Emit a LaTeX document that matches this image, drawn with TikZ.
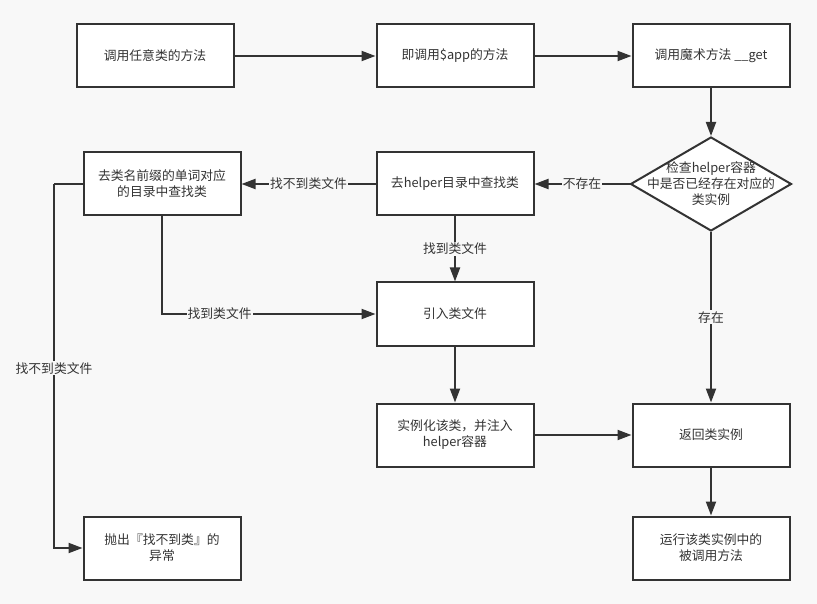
\documentclass[tikz,border=0pt]{standalone}
\usepackage{fontspec}
\setmainfont{Noto Sans CJK SC}
\usetikzlibrary{arrows.meta,shapes.geometric}
\definecolor{bg}{HTML}{F8F8F8}
\definecolor{ln}{HTML}{333333}
\definecolor{tx}{HTML}{333333}
\begin{document}
\begin{tikzpicture}[x=1pt,y=-1pt,
  box/.style={draw=ln, line width=2pt, fill=white, minimum width=157pt, minimum height=63pt, inner sep=2pt, align=center, text=tx, font=\fontsize{12.8}{16}\selectfont},
  dia/.style={diamond, draw=ln, line width=2pt, fill=white, minimum width=161pt, minimum height=94pt, inner sep=0pt},
  dtext/.style={align=center, text=tx, font=\fontsize{12.8}{16}\selectfont},
  arr/.style={draw=ln, line width=2pt, -{Triangle[length=14pt,width=10pt]}},
  plain/.style={draw=ln, line width=2pt},
  lbl/.style={fill=bg, inner sep=1pt, text=tx, font=\fontsize{12.8}{16}\selectfont},
]
\fill[bg] (0,0) rectangle (817,604);
\useasboundingbox (0,0) rectangle (817,604);

\node[box] (b1) at (155,56) {调用任意类的方法};
\node[box] (b2) at (455,56) {即调用\$app的方法};
\node[box] (b3) at (711,56) {调用魔术方法 \_\_get};
\node[dia] (dia) at (711,184) {};
\node[dtext] (diat) at (711,184) {检查helper容器\\中是否已经存在对应的\\类实例};
\node[box] (hp) at (455,184) {去helper目录中查找类};
\node[box] (lb) at (162,184) {去类名前缀的单词对应\\的目录中查找类};
\node[box] (inc) at (455,314) {引入类文件};
\node[box] (ins) at (455,435) {实例化该类，并注入\\helper容器};
\node[box] (ret) at (711,435) {返回类实例};
\node[box] (run) at (711,548) {运行该类实例中的\\被调用方法};
\node[box] (thr) at (162,548) {抛出『找不到类』的\\异常};
\coordinate (c1) at (54,184);

\draw[arr] (b1) -- (b2);
\draw[arr] (b2) -- (b3);
\draw[arr] (b3) -- (dia.north);
\draw[arr] (dia.west) -- node[lbl] {不存在} (hp);
\draw[arr] (hp) -- node[lbl] {找不到类文件} (lb);
\draw[arr] (hp) -- node[lbl] {找到类文件} (inc);
\draw[arr] (lb.south) |- node[lbl, pos=0.635] {找到类文件} (inc.west);
\draw[plain] (lb.west) -- (c1);
\draw[arr] (c1) |- node[lbl, pos=0.253] {找不到类文件} (thr.west);
\draw[arr] (dia.south) -- node[lbl] {存在} (ret);
\draw[arr] (inc) -- (ins);
\draw[arr] (ins) -- (ret);
\draw[arr] (ret) -- (run);
\end{tikzpicture}
\end{document}
